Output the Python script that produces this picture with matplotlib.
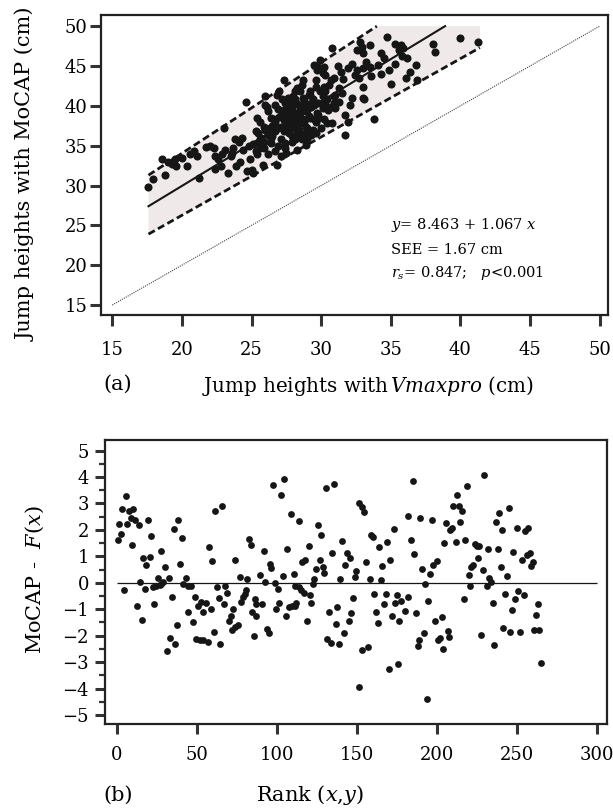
import numpy as np
import matplotlib
matplotlib.use('Agg')
import matplotlib.pyplot as plt
from matplotlib.ticker import MultipleLocator

plt.rcParams['font.family'] = ['DejaVu Serif']
plt.rcParams['mathtext.fontset'] = 'dejavuserif'

# (a) jump heights, Vmaxpro vs MoCAP (cm)
vmax_x = [17.6, 17.9, 18.6, 18.8, 19.0, 19.3, 19.5, 19.6, 20.0, 20.4,
          20.6, 20.9, 21.2, 21.1,
          21.7, 22.0, 22.3, 22.4, 22.6, 22.8, 22.9, 23.1, 23.0, 23.3,
          23.5, 23.7, 23.8, 23.6, 24.1, 24.3, 24.4, 24.6, 24.9, 25.0,
          25.1, 25.3, 25.4, 25.6, 25.7, 25.9, 26.0, 26.1, 26.2, 26.5,
          26.6, 26.7, 26.8, 26.9, 27.1, 27.3, 27.1, 27.3, 27.5, 27.7,
          27.8, 27.9, 28.0, 28.1, 28.3, 28.5, 28.6, 28.7, 28.9, 29.0,
          29.2, 29.5, 29.6, 29.7, 29.8, 29.9, 30.1, 30.2, 30.3, 30.5,
          30.7, 30.8, 30.8, 30.9,
          31.4, 31.9, 32.2, 32.6, 33.0, 33.2, 33.5, 34.1, 34.5, 34.9,
          35.3, 35.8, 36.1, 35.0, 32.7, 33.0, 32.2, 32.1, 33.0, 33.1,
          33.8, 31.7, 31.9, 31.7, 31.0, 31.3, 30.3, 30.4, 30.1, 29.8,
          29.6, 29.2, 28.9, 28.4, 28.1, 28.6, 29.1, 27.9, 27.7, 27.5,
          27.2, 26.7, 26.2, 26.0, 25.6, 25.4, 25.5, 25.9, 26.4, 26.7,
          27.1, 27.3, 27.7, 28.1, 28.5, 28.9, 29.4, 30.0, 27.9, 27.4,
          26.7, 26.2, 25.9, 25.4, 26.8, 25.8, 26.4,
          32.8, 32.9, 32.6, 33.5, 33.0, 34.7, 35.3, 35.7, 35.6, 35.9,
          34.3, 36.2, 36.8, 36.9, 36.4, 38.0, 38.2, 40.0, 41.3, 30.7,
          30.9, 31.0, 31.3, 30.9, 30.3, 29.7, 29.5, 30.2, 30.1, 29.6,
          29.2, 28.7, 28.5, 28.1, 27.4, 28.5, 29.1, 29.7, 28.0, 28.3,
          29.0, 29.6, 30.4, 27.4, 28.1, 28.9, 27.5, 28.3,
          22.4, 23.9, 24.7, 24.2, 27.0, 27.6, 28.2, 28.8, 29.3, 28.4,
          27.9, 29.0, 26.5, 27.2, 28.7, 29.5, 26.9, 28.0, 25.1, 26.3,
          27.3, 27.8, 28.3, 28.6, 29.1, 29.4, 28.2, 27.6, 26.9, 27.4,
          28.8, 29.8, 30.2, 29.3, 28.6, 26.4, 26.0, 25.3, 24.8, 25.6,
          30.6, 31.6, 32.4, 31.2, 33.6, 34.3, 29.9, 28.3, 27.0, 31.5]
mocap_y = [29.8, 30.8, 33.3, 31.3, 33.0, 32.7, 33.3, 32.5, 33.5, 32.4,
           34.0, 34.3, 30.9, 33.7,
           34.8, 35.0, 34.7, 33.7, 33.3, 32.4, 33.9, 34.5, 37.2, 31.6,
           33.7, 34.7, 35.8, 34.1, 35.5, 36.0, 34.5, 40.5, 33.3, 32.0,
           31.6, 34.3, 35.3, 34.7, 36.0, 37.4, 41.2, 39.9, 36.4, 36.2,
           38.3, 40.1, 41.4, 34.9, 33.7, 43.3, 37.4, 39.5, 38.3, 36.6,
           40.3, 38.7, 41.2, 35.8, 37.4, 39.1, 40.1, 38.3, 36.6, 39.5,
           41.4, 40.1, 43.3, 38.3, 44.9, 45.8, 44.1, 42.4, 40.3, 39.5,
           43.3, 47.2, 37.8, 41.2,
           44.3, 44.7, 45.3, 44.5, 44.7, 45.5, 44.9, 45.1, 46.0, 44.5,
           45.3, 46.2, 43.5, 42.8, 43.5, 42.4, 41.0, 40.1, 41.0, 40.8,
           38.3, 38.9, 38.0, 36.4, 39.7, 40.5, 41.8, 40.8, 39.7, 38.9,
           38.0, 38.5, 39.3, 40.1, 41.8, 42.6, 41.4, 39.7, 38.9, 38.0,
           39.1, 38.0, 39.3, 40.1, 38.0, 38.5, 36.6, 35.5, 36.0, 36.8,
           35.8, 36.8, 37.0, 37.2, 36.6, 37.4, 37.0, 37.2, 35.5, 34.7,
           34.3, 33.9, 34.7, 33.9, 32.6, 32.6, 35.3,
           48.0, 47.4, 47.0, 47.6, 46.6, 48.7, 47.8, 47.6, 47.0, 47.2,
           46.6, 46.0, 45.1, 43.3, 44.3, 47.8, 46.8, 48.5, 48.0, 39.9,
           40.3, 41.4, 42.2, 43.5, 43.9, 44.5, 45.1, 44.9, 41.2, 42.4,
           41.8, 43.3, 41.8, 40.8, 40.3, 39.5, 38.7, 39.1, 38.3, 36.6,
           37.2, 36.6, 37.8, 35.3, 35.8, 35.1, 34.1, 34.5,
           32.1, 32.4, 31.8, 33.0, 38.6, 39.6, 38.0, 40.6, 39.8, 37.0,
           36.2, 35.8, 37.5, 40.8, 41.0, 38.4, 39.6, 39.2, 35.2, 37.2,
           38.2, 37.8, 38.6, 37.8, 40.2, 40.9, 40.4, 41.0, 37.2, 37.6,
           38.0, 40.4, 38.4, 36.4, 35.9, 38.5, 37.0, 36.9, 35.0, 35.9,
           42.6, 43.4, 43.9, 45.0, 43.8, 44.0, 41.8, 42.2, 41.9, 41.6]

fit_x = [17.6, 38.9]
fit_y = [27.4, 50.0]
upper_x = [17.6, 34.0]
upper_y = [31.3, 50.0]
lower_x = [17.6, 41.4]
lower_y = [23.9, 47.3]
identity = [15, 50]
a_ticks = [15, 20, 25, 30, 35, 40, 45, 50]

# (b) residuals against rank
rank = [0.8, 2.5, 1.4, 3.5, 5.6, 6.6, 7.5, 8.7, 10.4, 11.2,
        13.7, 9.6, 4.6, 14.8, 12.7, 15.6, 16.4, 18.5, 20.6, 19.6,
        21.6, 17.5, 23.5, 22.9, 24.8, 25.8, 26.9, 27.9, 28.9, 30.4,
        27.5, 32.5, 34.6, 33.3, 36.6, 31.6, 37.7, 35.6, 38.5, 40.6,
        39.6, 41.4, 43.5, 44.6, 46.2, 44.6, 47.7, 48.7, 50.8, 52.9,
        55.6, 53.9, 49.8, 51.9, 53.9, 57.1, 58.7, 60.8, 64.8, 57.9,
        59.8, 61.6, 66.0, 62.9, 63.9, 67.9, 68.9, 67.1, 72.7, 71.2,
        70.0, 72.1, 74.1, 75.8, 73.7, 76.9, 81.6, 80.0, 78.9, 77.9,
        81.0, 82.7, 84.1, 86.2, 86.9, 84.6, 85.6, 87.3,
        89.8, 90.9, 91.9, 92.9, 94.0, 95.0, 95.6, 96.7, 97.7, 98.8,
        99.8, 100.9, 101.7, 102.9, 104.0, 104.8, 105.9, 106.7, 107.9, 109.0,
        109.6, 111.1, 111.5, 112.3, 111.7, 113.8, 113.8, 115.4, 115.9, 116.9,
        117.9, 119.0, 120.0, 120.6, 121.7, 122.7, 123.6, 124.8, 125.6, 126.9,
        127.7, 128.8, 129.8, 130.9, 131.7, 132.5, 134.0, 134.6, 135.9, 137.1,
        137.7, 138.8, 139.8, 140.9, 141.9, 142.9, 144.0, 145.0, 145.6, 146.7,
        147.7, 148.8, 149.8, 151.3, 151.7, 153.4, 154.8, 153.0, 156.1, 157.1,
        158.1, 159.0, 160.0, 161.1, 162.1, 163.1, 164.2, 165.2, 166.1, 167.1,
        168.1, 169.2, 170.0, 171.1, 172.1, 173.1, 174.2, 175.0, 175.9, 176.7,
        177.7,
        180.2, 181.9, 182.1, 184.0, 185.0, 186.1, 187.1, 188.1, 188.8, 189.8,
        190.9, 191.9, 192.9, 194.0, 194.8, 195.9, 196.9, 197.9, 199.2, 200.2,
        201.1, 202.1, 203.1, 204.2, 204.8, 205.9, 206.9, 207.9, 208.6, 209.6,
        210.4, 212.1, 212.7, 213.8, 214.8, 215.9, 216.9, 217.9, 219.0, 220.0,
        221.1, 221.7, 222.9, 223.8, 225.0, 226.3, 225.9, 227.7, 229.2, 229.8,
        231.3, 231.9, 232.9, 234.0, 235.0, 235.9, 237.1, 238.1, 239.2, 240.0,
        240.9, 241.7, 242.9, 244.0, 245.0, 246.1, 247.1, 247.9, 249.0, 250.2,
        251.1, 252.1, 253.1, 254.4, 255.4, 256.3, 257.3, 258.4, 259.2, 260.0,
        261.1, 262.1, 263.1, 264.2, 265.2]
resid = [1.63, 1.86, 2.23, 2.80, 3.28, 2.23, 2.70, 2.46, 2.78, 2.36,
         2.17, 1.44, -0.29, 0.03, -0.87, -1.40, 0.93, 0.66, 0.97, 2.39,
         1.77, -0.23, -0.82, -0.16, -0.13, 0.18, -0.10, -0.04, 0.03, 0.59,
         1.19, 0.18, -0.54, -2.08, -2.31, -2.59, -1.59, 2.05, 2.36, 1.70,
         0.72, -0.04, 0.18, -0.13, -0.13, -1.10, -1.49, -0.54, -0.86, -0.73,
         -0.76, -1.09, -2.12, -2.16, -2.18, -2.25, -1.00, -1.87, -2.31, 1.34,
         0.82, 2.71, 2.90, -0.16, -0.57, -0.13, -0.38, -0.80, -1.00, -1.24,
         -1.45, -1.77, -1.68, -1.59, 0.85, 0.21, 0.15, -0.44, -0.54, -0.71,
         -0.29, 1.64, 1.44, -0.61, -0.82, -1.12, -2.00, -1.24,
         0.28, -0.80, 1.22, 0.03, -1.74, -1.91, 0.72, 0.57, 3.71, -0.01,
         -1.00, -0.25, -0.76, 3.33, 0.24, 3.91, -1.24, 1.26, -0.92, 2.59,
         -0.88, 0.34, -0.86, -0.77, -0.13, 2.34, -0.16, -0.29, 0.78, -0.38,
         0.85, -1.45, 1.41, -0.45, -0.76, -0.04, 0.15, 0.51, 2.17, 0.85,
         1.79, 0.59, 0.38, 3.60, -2.12, -1.09, -2.29, 1.14, 3.75, -1.55,
         -0.92, -2.31, 0.13, 1.58, -1.89, 0.68, 1.14, -1.43, 0.95, -1.14,
         -0.57, 0.21, 0.43, -3.95, 3.03, 2.87, 2.68, -2.56, 0.78, -2.44,
         0.13, 1.82, 1.73, -0.44, -1.11, -1.53, 1.35, 0.11, 0.63, -0.82,
         -0.42, 1.54, -3.27, 0.85, -1.26, 2.05, -0.76, -0.45, -3.07, -1.43,
         -0.67,
         -1.07, -0.54, 2.51, 1.60, 3.86, 1.07, -1.14, -2.40, -2.15, 2.44,
         0.51, -1.91, -0.06, -4.39, -0.67, 0.32, 2.36, 0.69, -1.45, 0.82,
         -2.18, -2.08, -1.28, -2.50, 1.52, 2.26, -1.81, -2.06, 1.98, 2.08,
         2.90, 1.54, 3.31, 2.90, 2.30, 2.70, -0.63, 1.60, 3.65, 0.28,
         -0.13, 0.59, 0.69, 1.45, 1.41, 1.41, 0.93, -1.99, 0.49, 4.07,
         -0.13, 1.29, 0.18, 0.03, -0.76, -2.36, 2.30, 1.29, 2.64, 0.59,
         1.98, -1.70, -0.42, 0.24, 2.83, -1.87, -1.02, 1.16, -0.61, 2.07,
         -0.32, -1.87, 0.88, -0.48, 1.96, 1.04, 2.08, 1.14, 0.63, 0.78,
         -1.78, -1.21, -0.82, -1.78, -3.04]
b_xticks = [0, 50, 100, 150, 200, 250, 300]
b_yticks = [-5, -4, -3, -2, -1, 0, 1, 2, 3, 4, 5]

ink = '#161616'
W, H = 613, 808

fig = plt.figure(figsize=(W / 100, H / 100), dpi=100)

ax1 = fig.add_axes([100.7 / W, 1 - 315 / H, 507.3 / W, 300 / H])
band_x = [lower_x[0], upper_x[0], upper_x[1], lower_x[1], lower_x[1]]
band_y = [lower_y[0], upper_y[0], upper_y[1], upper_y[1], lower_y[1]]
ax1.fill(band_x, band_y, color='#efe9e9', lw=0, zorder=1)
ax1.plot(identity, identity, color='#444444', lw=0.8, ls=(0, (1, 1)), zorder=2)
ax1.plot(upper_x, upper_y, color=ink, lw=2, ls=(0, (2.6, 1.3)), zorder=2)
ax1.plot(lower_x, lower_y, color=ink, lw=2, ls=(0, (2.6, 1.3)), zorder=2)
ax1.plot(fit_x, fit_y, color=ink, lw=1.5, zorder=2)
ax1.scatter(vmax_x, mocap_y, s=34, c=ink, lw=0, zorder=3)
ax1.set_xlim(14.17, 50.6)
ax1.set_ylim(13.75, 51.4)
ax1.set_xticks(a_ticks)
ax1.set_yticks(a_ticks)
ax1.tick_params(axis='x', direction='out', length=8, width=2.2, pad=11,
                labelsize=13, color='#333333')
ax1.tick_params(axis='y', direction='out', length=8, width=2.2, pad=1.5,
                labelsize=13, color='#333333')
ax1.text(35, 25.0, r'$y$= 8.463 + 1.067 $x$', fontsize=10.5, va='center')
ax1.text(35, 21.9, 'SEE = 1.67 cm', fontsize=10.5, va='center')
ax1.text(35, 19.0, r'$r_s$= 0.847;   $p$<0.001', fontsize=10.5, va='center')

ax2 = fig.add_axes([105 / W, 1 - 724 / H, 502.3 / W, 284 / H])
ax2.hlines(0, 0, 300, color=ink, lw=0.9, zorder=2)
ax2.scatter(rank, resid, s=24, c=ink, lw=0, zorder=3)
ax2.set_xlim(-7.3, 306.6)
ax2.set_ylim(-5.34, 5.4)
ax2.set_xticks(b_xticks)
ax2.set_yticks(b_yticks)
ax2.yaxis.set_minor_locator(MultipleLocator(0.5))
ax2.tick_params(axis='x', direction='out', length=7.5, width=2.2, pad=8,
                labelsize=13, color='#333333')
ax2.tick_params(axis='y', which='major', direction='out', length=7.5, width=2.2,
                pad=4, labelsize=13, color='#333333')
ax2.tick_params(axis='y', which='minor', direction='out', length=4.5, width=1.6,
                color='#333333')

for ax in (ax1, ax2):
    for sp in ax.spines.values():
        sp.set_linewidth(1.6)
        sp.set_color('#222222')

fig.text(26 / W, 1 - 174 / H, 'Jump heights with MoCAP (cm)', rotation=90,
         ha='center', va='center', fontsize=15)
fig.text(368 / W, 1 - 386 / H, r'Jump heights with$\,Vmaxpro$ (cm)',
         ha='center', va='center', fontsize=14.3)
fig.text(118 / W, 1 - 384 / H, '(a)', ha='center', va='center', fontsize=15)
fig.text(35 / W, 1 - 580 / H, r'MoCAP -  $F$($x$)', rotation=90,
         ha='center', va='center', fontsize=15)
fig.text(118 / W, 1 - 795 / H, '(b)', ha='center', va='center', fontsize=15)
fig.text(310 / W, 1 - 795 / H, r'Rank ($x$,$y$)', ha='center', va='center',
         fontsize=15)

fig.savefig('out.png', dpi=100)
